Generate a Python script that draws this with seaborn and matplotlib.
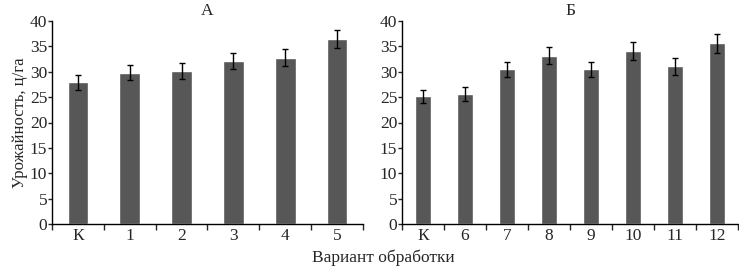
import numpy as np
import pandas as pd
import matplotlib
matplotlib.use("Agg")
import matplotlib.pyplot as plt
import seaborn as sns
from matplotlib.ticker import FixedLocator

# Panel A
cats_a = ["К", "1", "2", "3", "4", "5"]
vals_a = [27.9, 29.8, 30.1, 32.1, 32.8, 36.4]
err_a = [1.4, 1.5, 1.6, 1.6, 1.6, 1.8]

# Panel Б
cats_b = ["К", "6", "7", "8", "9", "10", "11", "12"]
vals_b = [25.2, 25.6, 30.5, 33.2, 30.5, 34.1, 31.1, 35.6]
err_b = [1.3, 1.3, 1.5, 1.7, 1.5, 1.8, 1.7, 1.9]

sns.set_style("ticks")
plt.rcParams["font.family"] = ["Liberation Serif", "DejaVu Serif"]
plt.rcParams["font.size"] = 12

fig = plt.figure(figsize=(7.39, 2.66), dpi=100)
W, H = 739, 266
ax_a = fig.add_axes([52 / W, 1 - 224 / H, (363 - 52) / W, (224 - 21) / H])
ax_b = fig.add_axes([402 / W, 1 - 224 / H, (738 - 402) / W, (224 - 21) / H])

bar_color = "#575757"

for ax, cats, vals, errs, title in [(ax_a, cats_a, vals_a, err_a, "А"),
                                     (ax_b, cats_b, vals_b, err_b, "Б")]:
    df = pd.DataFrame({"cat": cats, "val": vals})
    sns.barplot(data=df, x="cat", y="val", color=bar_color, width=0.4,
                saturation=1, errorbar=None, ax=ax)
    ax.errorbar(np.arange(len(cats)), vals, yerr=errs, fmt="none",
                ecolor="black", elinewidth=1, capsize=2, capthick=1)
    ax.set_xlim(-0.5, len(cats) - 0.5)
    ax.set_ylim(0, 40)
    ax.set_yticks(range(0, 41, 5))
    ax.set_xlabel("")
    ax.set_ylabel("")
    ax.set_title(title, fontsize=12.5, pad=4)
    ax.tick_params(axis="x", which="major", length=0, pad=3, labelsize=12.5)
    ax.xaxis.set_minor_locator(FixedLocator(np.arange(-0.5, len(cats), 1.0)))
    ax.tick_params(axis="x", which="minor", length=4, width=1, direction="out")
    ax.tick_params(axis="y", length=3, width=1, pad=0.5, labelsize=12.5)
    sns.despine(ax=ax)
    for sp in ["left", "bottom"]:
        ax.spines[sp].set_linewidth(1)
        ax.spines[sp].set_color("black")

ax_a.set_ylabel("Урожайность, ц/га", fontsize=12, labelpad=1)
fig.text(383 / W, 1 - 262 / H, "Вариант обработки", ha="center", va="baseline", fontsize=12.5)

fig.savefig("out.png", dpi=100)
